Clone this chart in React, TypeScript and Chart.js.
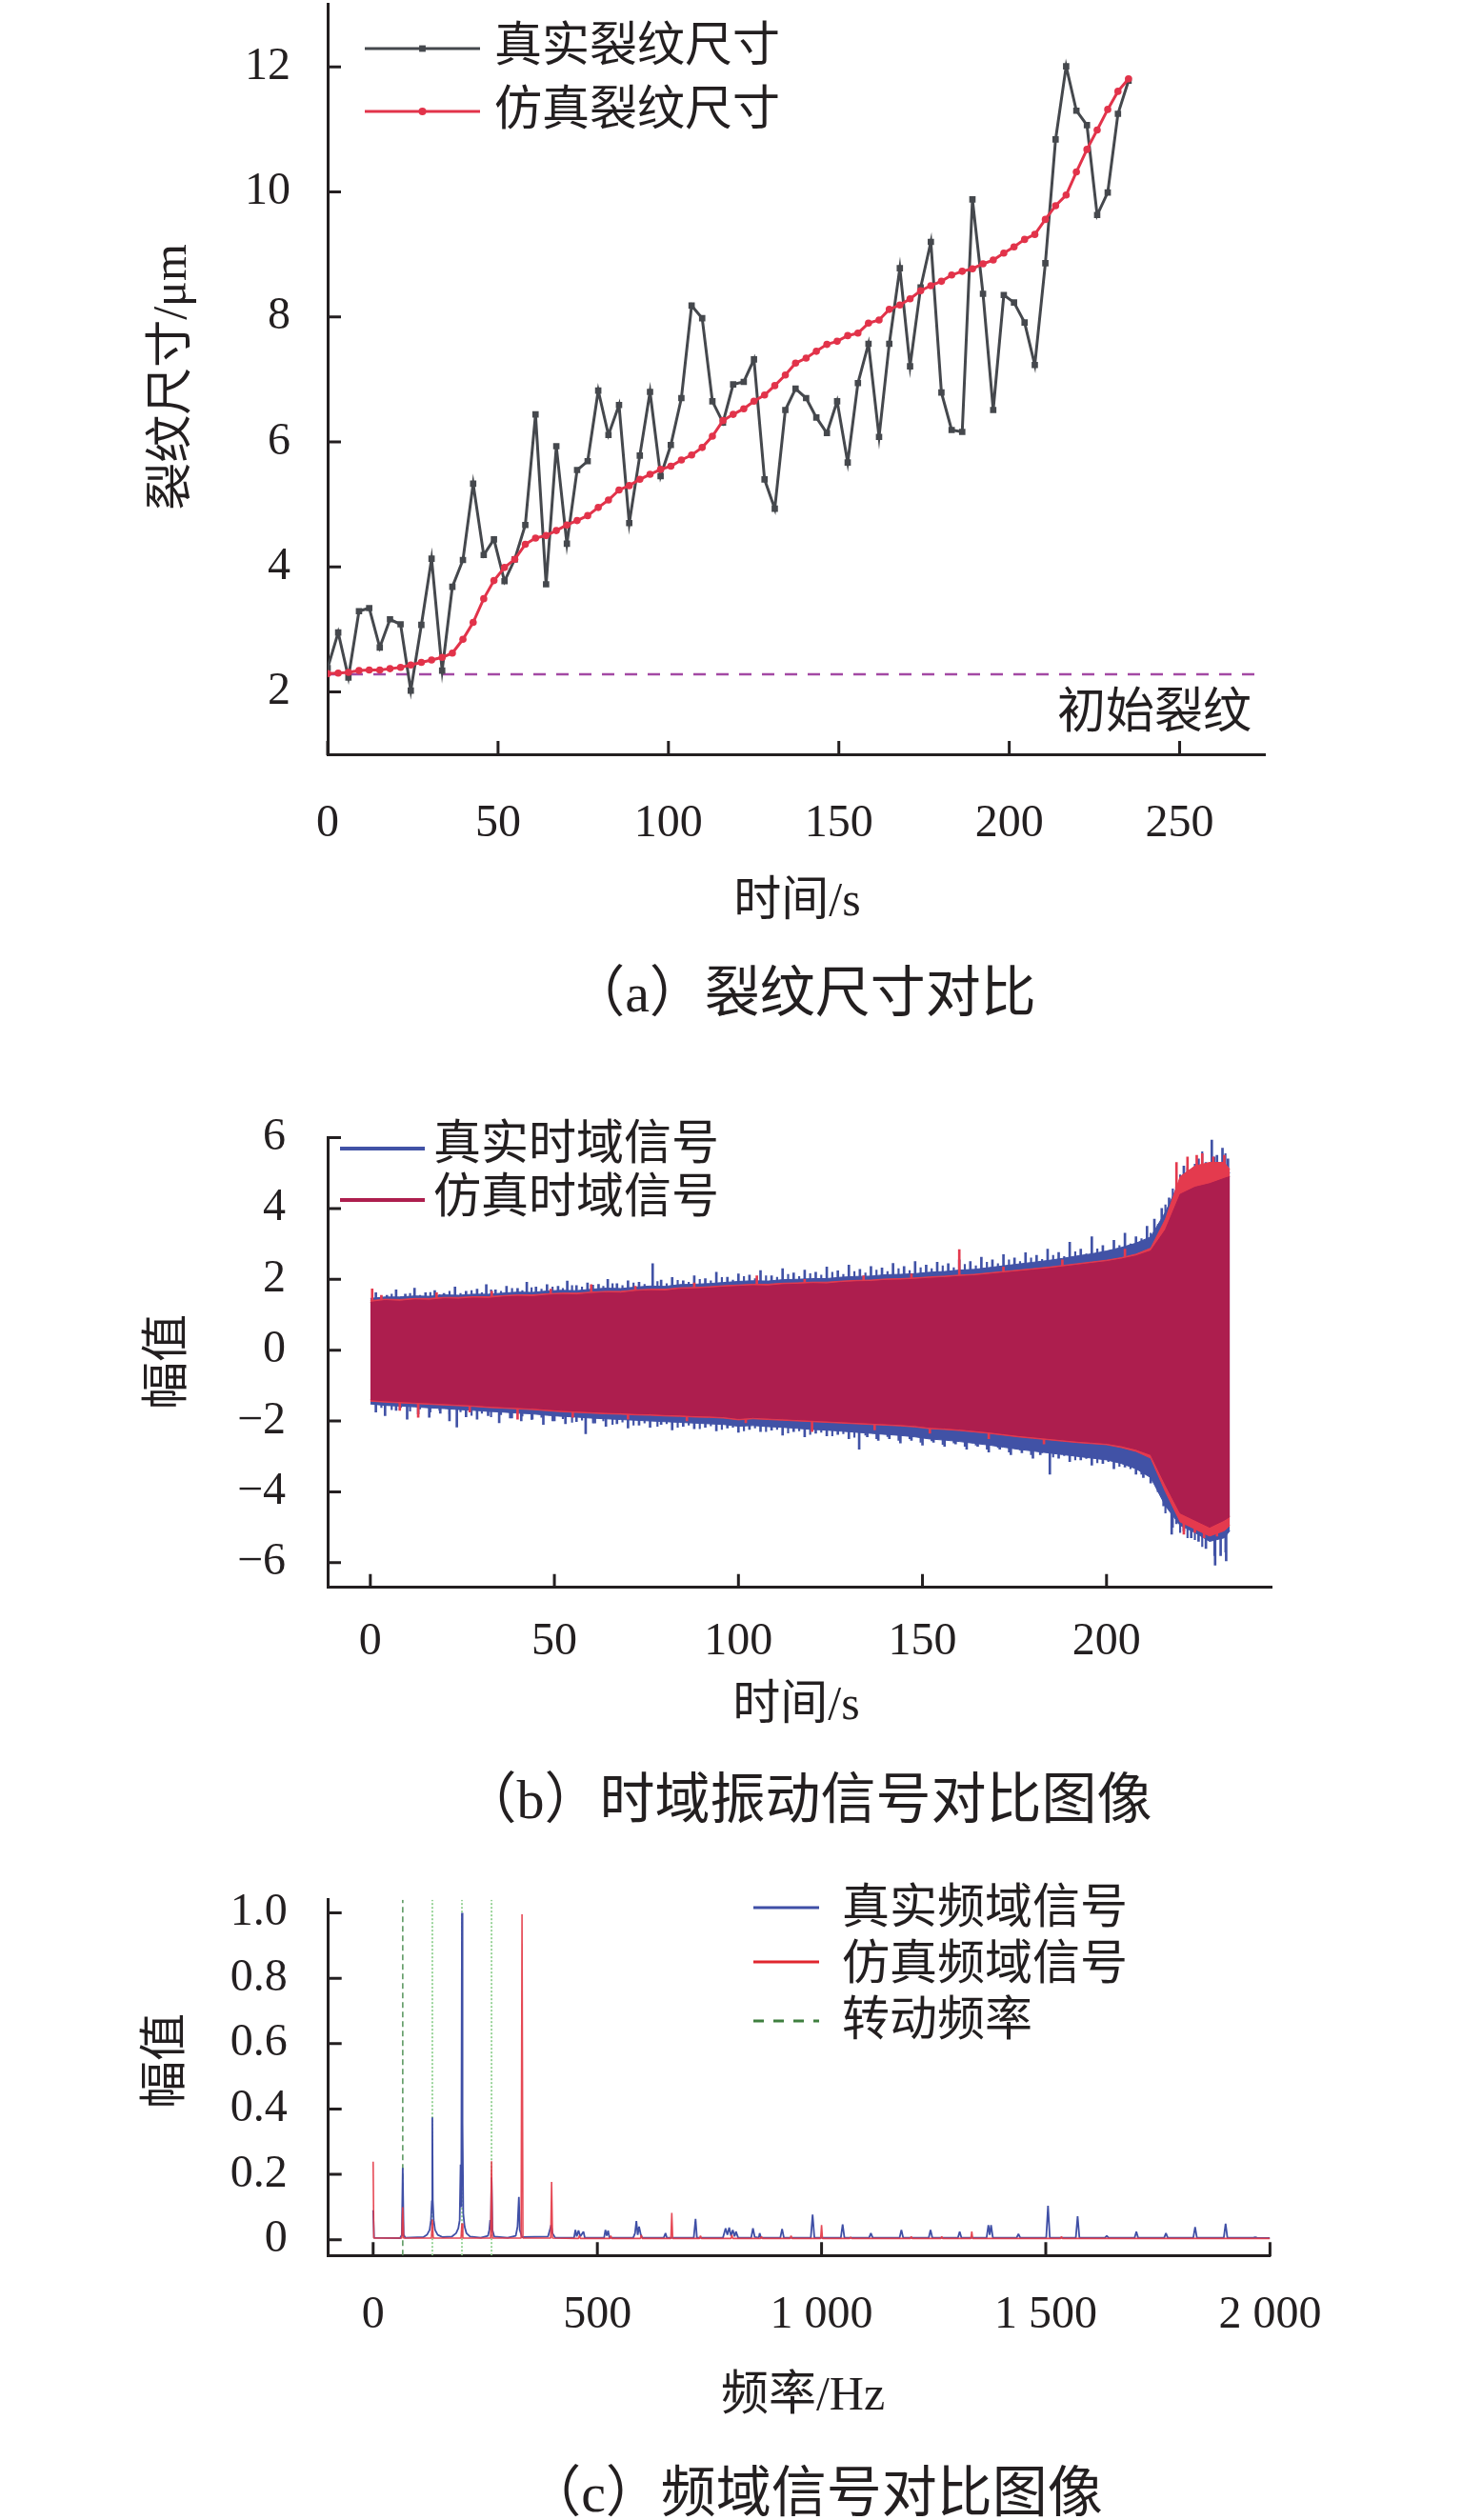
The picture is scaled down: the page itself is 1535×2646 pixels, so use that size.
import React, { useEffect, useRef } from "react";
import { Chart, registerables } from "chart.js";

Chart.register(...registerables);

const INK = "#231f20";
const FONT = '"Liberation Serif", "Noto Sans CJK SC", serif';
const TICK_PX = 48;
const TITLE_PX = 50;

/* ---------------- (a) crack size ---------------- */
const crackTime = [0, 3.1, 6.1, 9.2, 12.2, 15.3, 18.3, 21.4, 24.4, 27.5, 30.5, 33.6, 36.6, 39.7, 42.7, 45.8, 48.8, 51.9, 54.9, 58.0, 61.0, 64.1, 67.1, 70.2, 73.2, 76.3, 79.4, 82.4, 85.5, 88.5, 91.6, 94.6, 97.7, 100.7, 103.8, 106.8, 109.9, 112.9, 116.0, 119.0, 122.1, 125.1, 128.2, 131.2, 134.3, 137.3, 140.4, 143.4, 146.5, 149.5, 152.6, 155.6, 158.7, 161.8, 164.8, 167.9, 170.9, 174.0, 177.0, 180.1, 183.1, 186.2, 189.2, 192.3, 195.3, 198.4, 201.4, 204.5, 207.5, 210.6, 213.6, 216.7, 219.7, 222.8, 225.8, 228.9, 231.9, 235.0];
const crackReal = [
  2.38, 2.95, 2.23, 3.29, 3.34, 2.71, 3.16, 3.08, 2.02, 3.07,
  4.13, 2.34, 3.68, 4.11, 5.33, 4.19, 4.44, 3.77, 4.12, 4.67,
  6.44, 3.72, 5.93, 4.37, 5.55, 5.69, 6.82, 6.11, 6.59, 4.70,
  5.78, 6.80, 5.45, 5.95, 6.70, 8.18, 7.98, 6.65, 6.31, 6.92,
  6.96, 7.32, 5.40, 4.93, 6.51, 6.85, 6.70, 6.39, 6.14, 6.65,
  5.67, 6.94, 7.57, 6.08, 7.57, 8.78, 7.21, 8.47, 9.20, 6.79,
  6.19, 6.16, 9.88, 8.37, 6.51, 8.35, 8.23, 7.91, 7.23, 8.86,
  10.84, 12.01, 11.30, 11.07, 9.63, 9.99, 11.25, 11.78];
const crackSim = [
  2.29, 2.30, 2.31, 2.34, 2.35, 2.35, 2.37, 2.39, 2.43, 2.47,
  2.51, 2.55, 2.62, 2.84, 3.11, 3.49, 3.78, 3.99, 4.12, 4.36,
  4.46, 4.50, 4.58, 4.67, 4.74, 4.82, 4.95, 5.07, 5.23, 5.30,
  5.40, 5.48, 5.56, 5.61, 5.71, 5.79, 5.91, 6.09, 6.34, 6.44,
  6.53, 6.65, 6.75, 6.90, 7.07, 7.26, 7.34, 7.45, 7.56, 7.61,
  7.70, 7.74, 7.90, 7.95, 8.12, 8.19, 8.29, 8.42, 8.50, 8.57,
  8.67, 8.73, 8.77, 8.85, 8.91, 9.02, 9.12, 9.24, 9.32, 9.56,
  9.78, 9.95, 10.32, 10.68, 10.99, 11.32, 11.61, 11.81];
const initialCrack = 2.28;
const crackXRange = [0, 275];
const crackYRange = [1, 13];
const crackXTicks = [0, 50, 100, 150, 200, 250];
const crackYTicks = [2, 4, 6, 8, 10, 12];

/* ---------------- (b) time-domain signal (envelopes + spikes) ---------------- */
const sigTime = [0, 4, 8, 12, 16, 20, 24, 28, 32, 36, 40, 44, 48, 52, 56, 60, 64, 68, 72, 76, 80, 84, 88, 92, 96, 100, 104, 108, 112, 116, 120, 124, 128, 132, 136, 140, 144, 148, 152, 156, 160, 164, 168, 172, 176, 180, 184, 188, 192, 196, 200, 204, 208, 212, 216, 220, 224, 228, 232, 233.5];
const simHi = [
  1.35, 1.40, 1.38, 1.42, 1.41, 1.45, 1.44, 1.47, 1.46, 1.50,
  1.52, 1.51, 1.55, 1.57, 1.56, 1.60, 1.62, 1.61, 1.66, 1.68,
  1.67, 1.72, 1.73, 1.75, 1.78, 1.80, 1.82, 1.81, 1.85, 1.86,
  1.88, 1.87, 1.91, 1.93, 1.94, 1.97, 1.98, 2.00, 2.03, 2.05,
  2.08, 2.10, 2.14, 2.18, 2.22, 2.26, 2.30, 2.35, 2.40, 2.45,
  2.50, 2.57, 2.66, 2.80, 3.40, 4.40, 4.60, 4.70, 4.85, 4.90];
const simLo = [
  -1.40, -1.43, -1.45, -1.47, -1.49, -1.51, -1.53, -1.55, -1.58, -1.60,
  -1.62, -1.64, -1.67, -1.70, -1.72, -1.74, -1.76, -1.77, -1.79, -1.80,
  -1.82, -1.83, -1.85, -1.86, -1.88, -1.93, -1.90, -1.92, -1.94, -1.96,
  -1.98, -2.00, -2.02, -2.04, -2.06, -2.08, -2.10, -2.13, -2.18, -2.20,
  -2.23, -2.27, -2.31, -2.36, -2.41, -2.45, -2.49, -2.53, -2.57, -2.60,
  -2.63, -2.70, -2.80, -2.95, -3.80, -4.60, -4.80, -5.00, -4.80, -4.70];
const simEdgeHi = [
  1.40, 1.44, 1.43, 1.46, 1.46, 1.49, 1.49, 1.51, 1.51, 1.54,
  1.56, 1.56, 1.59, 1.61, 1.61, 1.64, 1.66, 1.66, 1.70, 1.72,
  1.72, 1.76, 1.77, 1.79, 1.82, 1.84, 1.86, 1.86, 1.89, 1.90,
  1.92, 1.92, 1.95, 1.97, 1.98, 2.01, 2.02, 2.04, 2.07, 2.09,
  2.12, 2.14, 2.18, 2.22, 2.26, 2.30, 2.34, 2.39, 2.44, 2.49,
  2.54, 2.61, 2.71, 2.88, 3.70, 4.90, 5.20, 5.30, 5.30, 5.10];
const simEdgeLo = [
  -1.44, -1.47, -1.49, -1.51, -1.53, -1.55, -1.57, -1.59, -1.62, -1.64,
  -1.66, -1.68, -1.71, -1.74, -1.76, -1.78, -1.80, -1.81, -1.83, -1.84,
  -1.86, -1.87, -1.89, -1.90, -1.92, -1.97, -1.94, -1.96, -1.98, -2.00,
  -2.02, -2.04, -2.06, -2.08, -2.10, -2.12, -2.14, -2.17, -2.22, -2.24,
  -2.27, -2.31, -2.35, -2.40, -2.45, -2.49, -2.53, -2.57, -2.61, -2.64,
  -2.67, -2.75, -2.86, -3.05, -4.00, -4.85, -5.05, -5.25, -5.10, -4.95];
const realHi = [
  1.46, 1.50, 1.50, 1.53, 1.52, 1.56, 1.55, 1.58, 1.58, 1.61,
  1.64, 1.63, 1.67, 1.69, 1.68, 1.72, 1.75, 1.74, 1.78, 1.81,
  1.80, 1.85, 1.86, 1.88, 1.91, 1.94, 1.96, 1.95, 1.99, 2.00,
  2.02, 2.02, 2.06, 2.08, 2.09, 2.13, 2.14, 2.16, 2.20, 2.22,
  2.26, 2.28, 2.33, 2.38, 2.43, 2.48, 2.53, 2.59, 2.66, 2.72,
  2.80, 2.90, 3.02, 3.20, 3.90, 4.80, 5.00, 5.20, 5.20, 5.00];
const realLo = [
  -1.52, -1.56, -1.58, -1.60, -1.63, -1.65, -1.68, -1.70, -1.73, -1.75,
  -1.78, -1.80, -1.84, -1.87, -1.89, -1.92, -1.94, -1.96, -1.98, -2.00,
  -2.02, -2.04, -2.06, -2.08, -2.10, -2.15, -2.13, -2.16, -2.18, -2.21,
  -2.24, -2.26, -2.29, -2.32, -2.35, -2.38, -2.41, -2.45, -2.51, -2.54,
  -2.58, -2.63, -2.68, -2.74, -2.80, -2.85, -2.90, -2.95, -3.00, -3.05,
  -3.10, -3.20, -3.35, -3.60, -4.40, -4.95, -5.15, -5.40, -5.30, -5.10];
const realSpikeUpTime = [1.5, 4.5, 7, 9.5, 12, 15, 17.5, 20, 23, 26, 29, 31.5, 34, 37, 40, 42.5, 45, 48, 51, 53.5, 56, 59, 62, 64.5, 67, 70, 73, 76.7, 79, 82, 85, 88, 91, 94, 97, 100, 103, 106, 109, 112, 115, 118, 121, 124, 127, 130, 133, 136, 139, 142, 145, 148, 151, 154, 157, 160, 163, 166, 169, 172, 175, 178, 181, 184, 187, 190, 193, 196, 199, 202, 205, 208, 211, 213, 215, 217, 219, 221, 223, 225, 227, 228.6, 230, 231.5, 233];
const realSpikeUpVal = [1.62, 1.55, 1.70, 1.58, 1.75, 1.62, 1.68, 1.60, 1.78, 1.66, 1.72, 1.85, 1.70, 1.80, 1.74, 1.92, 1.78, 1.85, 1.80, 1.95, 1.82, 1.90, 1.86, 2.00, 1.88, 1.96, 1.92, 2.44, 1.98, 2.05, 1.96, 2.10, 2.02, 2.20, 2.06, 2.15, 2.12, 2.25, 2.10, 2.30, 2.18, 2.26, 2.20, 2.35, 2.24, 2.40, 2.28, 2.36, 2.32, 2.45, 2.36, 2.50, 2.40, 2.48, 2.44, 2.55, 2.50, 2.62, 2.55, 2.70, 2.60, 2.75, 2.68, 2.85, 2.76, 3.05, 2.85, 3.20, 2.95, 3.10, 3.30, 3.20, 3.50, 3.70, 4.00, 4.30, 4.60, 5.20, 5.00, 5.40, 5.30, 5.93, 5.50, 5.70, 5.40];
const realSpikeDownTime = [1.5, 4, 7, 10, 13, 16, 19, 21.5, 23.5, 26, 29, 32, 35, 38, 41, 44, 47, 50, 53, 56, 58.5, 61, 64, 67, 70, 73, 76, 79, 82, 85, 88, 91, 94, 97, 100, 103, 106, 109, 112, 115, 118, 121, 124, 127, 130, 132.8, 135, 138, 141, 144, 147, 150, 153, 156, 159, 162, 165, 168, 171, 174, 177, 180, 182, 184.6, 187, 190, 193, 196, 199, 202, 205, 208, 210, 212, 214, 215.5, 217.7, 219, 221, 223, 225, 227, 229.5, 231, 232.5];
const realSpikeDownVal = [-1.75, -1.85, -1.70, -1.95, -1.80, -1.90, -1.78, -2.00, -2.17, -1.88, -1.95, -1.85, -2.05, -1.92, -2.00, -1.95, -2.10, -2.00, -2.08, -2.02, -2.36, -2.06, -2.15, -2.08, -2.20, -2.12, -2.18, -2.10, -2.25, -2.15, -2.22, -2.18, -2.28, -2.20, -2.32, -2.24, -2.30, -2.26, -2.40, -2.30, -2.45, -2.35, -2.42, -2.38, -2.50, -2.80, -2.45, -2.55, -2.50, -2.62, -2.55, -2.68, -2.60, -2.72, -2.65, -2.80, -2.72, -2.88, -2.80, -2.95, -2.90, -3.05, -2.95, -3.50, -3.05, -3.15, -3.10, -3.25, -3.20, -3.35, -3.30, -3.50, -3.60, -3.75, -4.00, -4.40, -5.20, -4.90, -5.10, -5.30, -5.40, -5.60, -6.07, -5.80, -5.95];
const realFringeTime = [3, 5.8, 8.3, 10.8, 13.5, 16.3, 18.8, 21.5, 24.5, 27.5, 30.3, 32.8, 35.5, 38.5, 41.3, 43.8, 46.5, 49.5, 52.3, 54.8, 57.5, 60.5, 63.3, 65.8, 68.5, 71.5, 74.5, 78, 80.5, 83.5, 86.5, 89.5, 92.5, 95.5, 98.5, 101.5, 104.5, 107.5, 110.5, 113.5, 116.5, 119.5, 122.5, 125.5, 128.5, 131.5, 134.5, 137.5, 140.5, 143.5, 146.5, 149.5, 152.5, 155.5, 158.5, 161.5, 164.5, 167.5, 170.5, 173.5, 176.5, 179.5, 182.5, 185.5, 188.5, 191.5, 194.5, 197.5, 200.5, 203.5, 206.5, 209.5, 212, 214, 216, 218, 220, 222, 224, 226, 229.3, 232.3];
const realFringeUp = [1.52, 1.58, 1.50, 1.60, 1.55, 1.63, 1.57, 1.66, 1.60, 1.68, 1.62, 1.70, 1.66, 1.74, 1.68, 1.76, 1.72, 1.78, 1.74, 1.82, 1.78, 1.84, 1.80, 1.88, 1.82, 1.90, 1.86, 1.94, 1.88, 1.97, 1.92, 2.00, 1.96, 2.05, 1.98, 2.08, 2.02, 2.10, 2.06, 2.14, 2.08, 2.16, 2.12, 2.20, 2.14, 2.22, 2.18, 2.26, 2.22, 2.30, 2.25, 2.33, 2.30, 2.38, 2.33, 2.42, 2.38, 2.48, 2.44, 2.55, 2.50, 2.60, 2.56, 2.68, 2.64, 2.78, 2.72, 2.86, 2.80, 2.95, 3.00, 3.15, 3.30, 3.55, 4.10, 4.55, 4.95, 5.15, 5.25, 5.60, 5.45, 5.55];
const realFringeDown = [-1.62, -1.68, -1.62, -1.72, -1.66, -1.75, -1.70, -1.80, -1.74, -1.84, -1.78, -1.88, -1.82, -1.92, -1.86, -1.96, -1.90, -2.00, -1.94, -2.04, -1.98, -2.06, -2.00, -2.10, -2.03, -2.12, -2.06, -2.15, -2.08, -2.18, -2.12, -2.22, -2.14, -2.24, -2.18, -2.28, -2.20, -2.30, -2.24, -2.34, -2.28, -2.38, -2.32, -2.42, -2.36, -2.46, -2.40, -2.50, -2.44, -2.55, -2.50, -2.60, -2.56, -2.66, -2.62, -2.72, -2.68, -2.80, -2.75, -2.88, -2.82, -2.95, -2.90, -3.02, -2.98, -3.10, -3.06, -3.18, -3.15, -3.28, -3.35, -3.50, -3.70, -3.95, -4.60, -5.00, -5.15, -5.30, -5.35, -5.55, -5.80, -5.70];
const simSpikeTime = [0.5, 3, 18, 33, 49, 60, 72, 88, 105, 118, 134, 147, 160, 172, 188, 205, 219, 222, 224.5, 226, 229, 232,
  8, 13, 27, 40, 55, 70, 86, 102, 120, 137, 152, 168, 183, 221, 224, 226.5, 230];
const simSpikeVal = [1.73, 1.55, 1.62, 1.66, 1.72, 1.85, 1.80, 1.90, 2.10, 2.00, 2.10, 2.15, 2.84, 2.35, 2.55, 2.85, 5.30, 5.45, 5.50, 5.55, 5.45, 5.50,
  -1.70, -1.90, -1.75, -1.95, -1.90, -1.95, -2.00, -2.05, -2.30, -2.25, -2.35, -2.50, -2.65, -5.20, -5.15, -5.30, -5.25];
const sigXRange = [-11.6, 245];
const sigYRange = [-6.7, 6];
const sigXTicks = [0, 50, 100, 150, 200];
const sigYTicks = [-6, -4, -2, 0, 2, 4, 6];
const sigYLabels = ["\u22126", "\u22124", "\u22122", "0", "2", "4", "6"];

/* ---------------- (c) spectrum ---------------- */
const specReal = [
  [0, 0.09], [2, 0.006], [60, 0.005], [64, 0.015], [66, 0.22], [68, 0.015], [72, 0.006],
  [112, 0.008], [120, 0.015], [126, 0.03], [129, 0.06], [131, 0.12], [132, 0.374], [133, 0.12], [135, 0.06], [138, 0.03], [144, 0.015], [155, 0.008],
  [176, 0.01], [185, 0.02], [190, 0.035], [193, 0.06], [195, 0.23], [196.5, 0.1], [198, 1.0], [199.3, 0.36], [201, 0.08], [204, 0.04], [208, 0.02], [216, 0.01],
  [240, 0.006], [256, 0.012], [259, 0.03], [261, 0.06], [262.5, 0.03], [264, 0.19], [266, 0.03], [270, 0.01],
  [300, 0.006], [318, 0.012], [322, 0.04], [325, 0.131], [327, 0.03], [332, 0.008],
  [390, 0.01], [394, 0.03], [397, 0.045], [400, 0.02], [406, 0.006],
  [448, 0.006], [451, 0.03], [454, 0.01], [458, 0.028], [462, 0.01], [469, 0.025], [472, 0.006],
  [515, 0.006], [518, 0.03], [521, 0.012], [524, 0.028], [527, 0.006],
  [580, 0.006], [584, 0.02], [587, 0.057], [590, 0.015], [593, 0.04], [597, 0.015], [600, 0.006],
  [648, 0.006], [652, 0.02], [655, 0.006],
  [715, 0.006], [719, 0.064], [722, 0.006],
  [780, 0.006], [786, 0.035], [790, 0.015], [794, 0.037], [798, 0.012], [802, 0.03], [806, 0.01], [809, 0.025], [814, 0.006],
  [843, 0.006], [847, 0.035], [851, 0.008], [860, 0.006], [862, 0.02], [865, 0.006],
  [908, 0.006], [912, 0.033], [916, 0.006],
  [976, 0.006], [980, 0.077], [984, 0.006],
  [1043, 0.006], [1047, 0.047], [1051, 0.006],
  [1106, 0.006], [1110, 0.02], [1114, 0.006],
  [1174, 0.006], [1178, 0.03], [1182, 0.006],
  [1239, 0.006], [1243, 0.03], [1247, 0.006],
  [1304, 0.006], [1308, 0.025], [1312, 0.006],
  [1368, 0.006], [1372, 0.045], [1375, 0.015], [1378, 0.045], [1382, 0.006],
  [1435, 0.006], [1439, 0.018], [1443, 0.006],
  [1501, 0.006], [1505, 0.104], [1509, 0.006],
  [1567, 0.006], [1571, 0.072], [1575, 0.006],
  [1632, 0.006], [1636, 0.012], [1640, 0.006],
  [1698, 0.006], [1702, 0.025], [1706, 0.006],
  [1764, 0.006], [1768, 0.02], [1772, 0.006],
  [1829, 0.006], [1833, 0.039], [1837, 0.006],
  [1897, 0.006], [1901, 0.049], [1905, 0.006],
  [1963, 0.006], [1967, 0.008], [1971, 0.006],
  [2000, 0.005]];
const specSim = [
  [0, 0.239], [1.5, 0.005], [64, 0.005], [66, 0.1], [68, 0.005],
  [130, 0.005], [132, 0.062], [134, 0.005], [196, 0.005], [198, 0.05], [200, 0.005],
  [262, 0.005], [264, 0.24], [266, 0.005], [330, 0.005], [332, 0.996], [334, 0.005],
  [396, 0.005], [398, 0.177], [400, 0.005], [458, 0.004], [460, 0.012], [462, 0.004],
  [528, 0.004], [530, 0.012], [532, 0.004], [596, 0.004], [598, 0.015], [600, 0.004],
  [664, 0.004], [666, 0.082], [668, 0.004], [728, 0.004], [730, 0.012], [732, 0.004],
  [798, 0.004], [800, 0.015], [802, 0.004], [864, 0.004], [866, 0.01], [868, 0.004],
  [930, 0.004], [932, 0.012], [934, 0.004], [998, 0.004], [1000, 0.045], [1002, 0.004],
  [1063, 0.004], [1065, 0.008], [1067, 0.004], [1198, 0.004], [1200, 0.01], [1202, 0.004],
  [1266, 0.004], [1268, 0.01], [1270, 0.004], [1333, 0.004], [1335, 0.025], [1337, 0.004],
  [1533, 0.004], [1535, 0.01], [1537, 0.004], [2000, 0.004]];
const rotFreqs = [66, 132, 198, 264];
const specXRange = [-100, 2000];
const specYRange = [-0.048, 1.04];
const specXTicks = [0, 500, 1000, 1500, 2000];
const specXLabels = ["0", "500", "1 000", "1 500", "2 000"];
const specYTicks = [0, 0.2, 0.4, 0.6, 0.8, 1.0];
const specYLabels = ["0", "0.2", "0.4", "0.6", "0.8", "1.0"];

/* ---------------- colours ---------------- */
const GRAY = "#45484d";
const RED_A = "#e2334a";
const PURPLE = "#a349a4";
const BLUE_B = "#4152a6";
const CRIMSON = "#ad1e4e";
const BRIGHT = "#e43a4e";
const BLUE_C = "#3f4fa6";
const RED_C = "rgba(228,58,70,0.92)";
const GREEN_DARK = "#5f9a64";
const GREEN_LIGHT = "#8fd08f";
const GREEN_LEG = "#3f7f3f";

/* ---------------- helpers ---------------- */
function axisX(range: number[], ticks: number[], labels: string[] | null, padding: number, height: number) {
  return {
    type: "linear",
    min: range[0],
    max: range[1],
    offset: false,
    grid: { display: false, drawTicks: false },
    border: { display: true, color: INK, width: 3 },
    ticks: {
      font: { family: FONT, size: TICK_PX },
      color: INK,
      padding,
      autoSkip: false,
      maxRotation: 0,
      minRotation: 0,
      callback: (v: number, i: number) => (labels ? labels[i] : String(ticks[i])),
    },
    afterBuildTicks: (s: any) => {
      s.ticks = ticks.map((v) => ({ value: v }));
    },
    afterFit: (s: any) => {
      s.height = height;
      s.paddingLeft = 0;
      s.paddingRight = 0;
      s.paddingTop = 0;
      s.paddingBottom = 0;
    },
  };
}
function axisY(range: number[], ticks: number[], labels: string[] | null, padding: number, width: number) {
  return {
    type: "linear",
    min: range[0],
    max: range[1],
    grid: { display: false, drawTicks: false },
    border: { display: true, color: INK, width: 3 },
    ticks: {
      font: { family: FONT, size: TICK_PX },
      color: INK,
      padding,
      autoSkip: false,
      callback: (v: number, i: number) => (labels ? labels[i] : String(ticks[i])),
    },
    afterBuildTicks: (s: any) => {
      s.ticks = ticks.map((v) => ({ value: v }));
    },
    afterFit: (s: any) => {
      s.width = width;
      s.paddingLeft = 0;
      s.paddingRight = 0;
      s.paddingTop = 0;
      s.paddingBottom = 0;
    },
  };
}

type LegendItem = {
  text: string;
  color: string;
  x1: number;
  x2: number;
  y: number;
  tx: number;
  ty: number;
  lw: number;
  dash?: number[];
  marker?: string;
};
type Decor = {
  id: string;
  xTicks: number[];
  yTicks: number[];
  xTitle: { text: string; x: number; y: number };
  yTitle: { text: string; x: number; y: number };
  legend: LegendItem[];
  notes?: { text: string; x: number; yValue: number; size: number }[];
};
function makeDecor(d: Decor) {
  return {
    id: d.id,
    afterDraw(chart: any) {
      const ctx = chart.ctx;
      const { left, bottom } = chart.chartArea;
      const xs = chart.scales.x;
      const ys = chart.scales.y;
      ctx.save();
      ctx.strokeStyle = INK;
      ctx.lineWidth = 3;
      ctx.setLineDash([]);
      ctx.beginPath();
      d.yTicks.forEach((v) => {
        const py = ys.getPixelForValue(v);
        ctx.moveTo(left - 1, py);
        ctx.lineTo(left + 14, py);
      });
      d.xTicks.forEach((v) => {
        const px = xs.getPixelForValue(v);
        ctx.moveTo(px, bottom + 1);
        ctx.lineTo(px, bottom - 14);
      });
      ctx.stroke();
      ctx.fillStyle = INK;
      ctx.font = `${TITLE_PX}px ${FONT}`;
      ctx.textAlign = "center";
      ctx.textBaseline = "middle";
      ctx.fillText(d.xTitle.text, d.xTitle.x, d.xTitle.y);
      ctx.save();
      ctx.translate(d.yTitle.x, d.yTitle.y);
      ctx.rotate(-Math.PI / 2);
      ctx.fillText(d.yTitle.text, 0, 0);
      ctx.restore();
      d.legend.forEach((it) => {
        ctx.save();
        ctx.strokeStyle = it.color;
        ctx.lineWidth = it.lw;
        ctx.setLineDash(it.dash || []);
        ctx.beginPath();
        ctx.moveTo(it.x1, it.y);
        ctx.lineTo(it.x2, it.y);
        ctx.stroke();
        ctx.setLineDash([]);
        const cx = (it.x1 + it.x2) / 2;
        ctx.fillStyle = it.color;
        if (it.marker === "rect") {
          ctx.fillRect(cx - 3.4, it.y - 3.4, 6.8, 6.8);
        } else if (it.marker === "circle") {
          ctx.beginPath();
          ctx.arc(cx, it.y, 4, 0, Math.PI * 2);
          ctx.fill();
        }
        ctx.fillStyle = INK;
        ctx.font = `${TITLE_PX}px ${FONT}`;
        ctx.textAlign = "left";
        ctx.textBaseline = "middle";
        ctx.fillText(it.text, it.tx, it.ty);
        ctx.restore();
      });
      (d.notes || []).forEach((n) => {
        ctx.fillStyle = INK;
        ctx.font = `${n.size}px ${FONT}`;
        ctx.textAlign = "right";
        ctx.textBaseline = "middle";
        ctx.fillText(n.text, n.x, ys.getPixelForValue(n.yValue));
      });
      ctx.restore();
    },
  };
}

const baseOptions = {
  responsive: false,
  animation: false,
  events: [],
  plugins: { legend: { display: false }, tooltip: { enabled: false }, title: { display: false } },
  elements: { line: { tension: 0 } },
};

/* ---------------- chart configs ---------------- */
function crackConfig(): any {
  const pts = (ys: number[]) => crackTime.map((t, i) => ({ x: t, y: ys[i] }));
  return {
    type: "line",
    data: {
      datasets: [
        {
          label: "仿真裂纹尺寸",
          data: pts(crackSim),
          borderColor: RED_A,
          backgroundColor: RED_A,
          borderWidth: 3,
          pointStyle: "circle",
          pointRadius: 3.8,
          pointBorderWidth: 0,
          order: 0,
        },
        {
          label: "真实裂纹尺寸",
          data: pts(crackReal),
          borderColor: GRAY,
          backgroundColor: GRAY,
          borderWidth: 3,
          borderJoinStyle: "miter",
          pointStyle: "rect",
          pointRadius: 4.7,
          pointBorderWidth: 0,
          order: 1,
        },
        {
          label: "初始裂纹",
          data: [
            { x: crackXRange[0], y: initialCrack },
            { x: crackXRange[1], y: initialCrack },
          ],
          borderColor: PURPLE,
          borderWidth: 2.5,
          borderDash: [13, 11],
          pointRadius: 0,
          order: 2,
        },
      ],
    },
    options: {
      ...baseOptions,
      layout: { padding: { left: 0, top: 0, right: 207, bottom: 0 } },
      scales: {
        x: axisX(crackXRange, crackXTicks, null, 45, 208),
        y: axisY(crackYRange, crackYTicks, null, 39, 344),
      },
    },
    plugins: [
      makeDecor({
        id: "decorA",
        xTicks: crackXTicks,
        yTicks: crackYTicks,
        xTitle: { text: "时间/s", x: 837, y: 948 },
        yTitle: { text: "裂纹尺寸/μm", x: 182, y: 396 },
        legend: [
          { text: "真实裂纹尺寸", color: GRAY, x1: 383, x2: 504, y: 51, tx: 519, ty: 51, lw: 3, marker: "rect" },
          { text: "仿真裂纹尺寸", color: RED_A, x1: 383, x2: 504, y: 117, tx: 519, ty: 118, lw: 3, marker: "circle" },
        ],
        notes: [{ text: "初始裂纹", x: 1314, yValue: 1.63, size: 51 }],
      }),
    ],
  };
}

function signalConfig(): any {
  const band = (ys: number[]) => sigTime.map((t, i) => ({ x: t, y: ys[i] }));
  const line = (data: any, color: string, fill: any, order: number) => ({
    type: "line",
    data,
    borderColor: color,
    backgroundColor: color,
    borderWidth: 1,
    pointRadius: 0,
    fill,
    order,
  });
  const spikes = (ts: number[], vs: number[], color: string, order: number, w: number) => ({
    type: "bar",
    data: ts.map((t, i) => ({ x: t, y: [0, vs[i]] })),
    backgroundColor: color,
    borderWidth: 0,
    barThickness: w,
    grouped: false,
    order,
  });
  return {
    type: "line",
    data: {
      datasets: [
        line(band(simHi), CRIMSON, "+1", 0),
        line(band(simLo), CRIMSON, false, 0),
        line(band(simEdgeHi), BRIGHT, "+1", 1),
        line(band(simEdgeLo), BRIGHT, false, 1),
        spikes(simSpikeTime, simSpikeVal, BRIGHT, 2, 2),
        line(band(realHi), BLUE_B, "+1", 3),
        line(band(realLo), BLUE_B, false, 3),
        spikes(realSpikeUpTime, realSpikeUpVal, BLUE_B, 4, 2),
        spikes(realSpikeDownTime, realSpikeDownVal, BLUE_B, 4, 2),
        spikes(realFringeTime, realFringeUp, BLUE_B, 4, 1.5),
        spikes(realFringeTime, realFringeDown, BLUE_B, 4, 1.5),
      ],
    },
    options: {
      ...baseOptions,
      layout: { padding: { left: 0, top: 94.5, right: 199.3, bottom: 0 } },
      scales: {
        x: axisX(sigXRange, sigXTicks, null, 28.4, 173.2),
        y: axisY(sigYRange, sigYTicks, sigYLabels, 44, 344),
      },
    },
    plugins: [
      makeDecor({
        id: "decorB",
        xTicks: sigXTicks,
        yTicks: sigYTicks,
        xTitle: { text: "时间/s", x: 836, y: 692 },
        yTitle: { text: "幅值", x: 178, y: 330 },
        legend: [
          { text: "真实时域信号", color: BLUE_B, x1: 357, x2: 446, y: 106, tx: 455, ty: 104, lw: 4 },
          { text: "仿真时域信号", color: CRIMSON, x1: 357, x2: 446, y: 160, tx: 455, ty: 160, lw: 4 },
        ],
      }),
    ],
  };
}

function spectrumConfig(): any {
  const rotSets = rotFreqs.map((f, i) => ({
    type: "line",
    data: [
      { x: f, y: specYRange[0] },
      { x: f, y: specYRange[1] },
    ],
    borderColor: i === 0 ? GREEN_DARK : GREEN_LIGHT,
    borderWidth: i === 0 ? 1.6 : 1.8,
    borderDash: i === 0 ? [6, 4] : [2, 2],
    pointRadius: 0,
    order: 3,
  }));
  return {
    type: "line",
    data: {
      datasets: [
        {
          label: "仿真频域信号",
          data: specSim.map((p) => ({ x: p[0], y: p[1] })),
          borderColor: RED_C,
          borderWidth: 1.6,
          borderJoinStyle: "bevel",
          pointRadius: 0,
          order: 0,
        },
        {
          label: "真实频域信号",
          data: specReal.map((p) => ({ x: p[0], y: p[1] })),
          borderColor: BLUE_C,
          borderWidth: 1.8,
          borderJoinStyle: "bevel",
          pointRadius: 0,
          order: 1,
        },
        ...rotSets,
      ],
    },
    options: {
      ...baseOptions,
      layout: { padding: { left: 0, top: 54.8, right: 201.6, bottom: 0 } },
      scales: {
        x: axisX(specXRange, specXTicks, specXLabels, 34, 191.8),
        y: axisY(specYRange, specYTicks, specYLabels, 43, 344.7),
      },
    },
    plugins: [
      makeDecor({
        id: "decorC",
        xTicks: specXTicks,
        yTicks: specYTicks,
        xTitle: { text: "频率/Hz", x: 843, y: 577 },
        yTitle: { text: "幅值", x: 176, y: 224 },
        legend: [
          { text: "真实频域信号", color: BLUE_C, x1: 791, x2: 860, y: 63, tx: 884, ty: 66, lw: 3 },
          { text: "仿真频域信号", color: "#e0262f", x1: 791, x2: 860, y: 120, tx: 884, ty: 125, lw: 3 },
          { text: "转动频率", color: GREEN_LEG, x1: 791, x2: 860, y: 182, tx: 884, ty: 184, lw: 3, dash: [11, 10] },
        ],
      }),
    ],
  };
}

/* ---------------- components ---------------- */
function ChartCanvas({ top, height, build }: { top: number; height: number; build: () => any }) {
  const ref = useRef<HTMLCanvasElement | null>(null);
  useEffect(() => {
    if (!ref.current) return;
    const chart = new Chart(ref.current, build());
    return () => chart.destroy();
  }, [build]);
  return (
    <canvas
      ref={ref}
      width={1535}
      height={height}
      style={{ position: "absolute", left: 0, top, width: 1535, height, display: "block" }}
    />
  );
}

function Caption({ text, cx, cy }: { text: string; cx: number; cy: number }) {
  const size = 58;
  return (
    <div
      style={{
        position: "absolute",
        left: cx - 500,
        width: 1000,
        top: cy - size * 0.6,
        height: size * 1.2,
        lineHeight: `${size * 1.2}px`,
        fontSize: size,
        fontFamily: FONT,
        color: INK,
        textAlign: "center",
        whiteSpace: "nowrap",
      }}
    >
      {text}
    </div>
  );
}

export default function App() {
  return (
    <div
      style={{
        position: "absolute",
        left: 0,
        top: 0,
        width: 1535,
        height: 2646,
        background: "#ffffff",
        overflow: "hidden",
      }}
    >
      <ChartCanvas top={0} height={1000} build={crackConfig} />
      <Caption text="（a）裂纹尺寸对比" cx={843} cy={1043} />
      <ChartCanvas top={1100} height={740} build={signalConfig} />
      <Caption text="（b）时域振动信号对比图像" cx={847} cy={1890} />
      <ChartCanvas top={1940} height={620} build={spectrumConfig} />
      <Caption text="（c）频域信号对比图像" cx={855} cy={2618} />
    </div>
  );
}
